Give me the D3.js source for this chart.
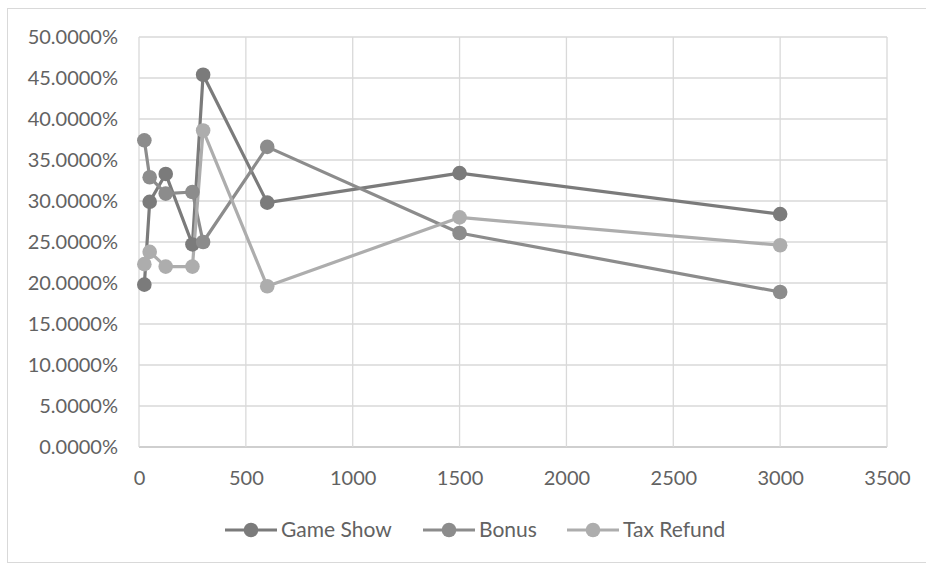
<!DOCTYPE html>
<html>
<head>
<meta charset="utf-8">
<script src="https://cdn.jsdelivr.net/npm/d3@7"></script>
<style>
  body { margin: 0; background: #fff; }
  svg { display: block; }
</style>
</head>
<body>
<div class="chart"></div>
<script>

// x positions (same for every series)
const xValues = [25, 50, 125, 250, 300, 600, 1500, 3000];

// share in percent
const gameShow  = [19.8, 29.9, 33.3, 24.7, 45.4, 29.8, 33.4, 28.4];
const bonus     = [37.4, 32.9, 30.9, 31.1, 25.0, 36.6, 26.1, 18.9];
const taxRefund = [22.3, 23.8, 22.0, 22.0, 38.6, 19.6, 28.0, 24.6];

const seriesNames = ["Game Show", "Bonus", "Tax Refund"];
const xTicks = [0, 500, 1000, 1500, 2000, 2500, 3000, 3500];
const yTicks = [0, 5, 10, 15, 20, 25, 30, 35, 40, 45, 50];

const colors = {"Game Show": "#7b7b7b", "Bonus": "#8c8c8c", "Tax Refund": "#adadad"};

document.addEventListener('DOMContentLoaded', () => {

  const width = 926;
  const height = 565;
  const margin = {top: 37, left: 139, right: 39, bottom: 118};
  const plotWidth = width - margin.left - margin.right;
  const plotHeight = height - margin.top - margin.bottom;

  const series = [
    {name: "Game Show", values: gameShow},
    {name: "Bonus", values: bonus},
    {name: "Tax Refund", values: taxRefund}
  ];

  const xScale = d3.scaleLinear().domain([0, 3500]).range([0, plotWidth]);
  const yScale = d3.scaleLinear().domain([0, 50]).range([plotHeight, 0]);

  const svg = d3.select('.chart')
    .append('svg')
    .attr('width', width)
    .attr('height', height);

  // outer chart frame
  svg.append('rect')
    .attr('x', 7.5).attr('y', 8.5)
    .attr('width', width).attr('height', height - 11)
    .attr('fill', 'none')
    .attr('stroke', '#d9d9d9');

  const g = svg.append('g')
    .attr('transform', `translate(${margin.left},${margin.top})`);

  // grid
  g.append('g')
    .selectAll('line')
    .data(yTicks)
    .join('line')
    .attr('x1', 0).attr('x2', plotWidth)
    .attr('y1', d => yScale(d)).attr('y2', d => yScale(d))
    .attr('stroke', d => d === 0 ? '#bfbfbf' : '#d9d9d9')
    .attr('stroke-width', 1.3);

  g.append('g')
    .selectAll('line')
    .data(xTicks)
    .join('line')
    .attr('y1', 0).attr('y2', plotHeight)
    .attr('x1', d => xScale(d)).attr('x2', d => xScale(d))
    .attr('stroke', '#d9d9d9')
    .attr('stroke-width', 1.3);

  // axes (labels only, Excel style)
  const xAxis = g.append('g')
    .attr('transform', `translate(0,${plotHeight})`)
    .call(d3.axisBottom(xScale).tickValues(xTicks).tickSize(0).tickPadding(24).tickFormat(d3.format('d')));

  const yAxis = g.append('g')
    .call(d3.axisLeft(yScale).tickValues(yTicks).tickSize(0).tickPadding(21).tickFormat(d => d.toFixed(4) + '%'));

  [xAxis, yAxis].forEach(a => {
    a.select('.domain').remove();
    a.selectAll('text')
      .attr('font-family', 'Lato, sans-serif')
      .attr('font-size', 20)
      .attr('fill', '#626262');
  });

  const line = d3.line()
    .x((d, i) => xScale(xValues[i]))
    .y(d => yScale(d));

  series.forEach(s => {
    g.append('path')
      .attr('d', line(s.values))
      .attr('fill', 'none')
      .attr('stroke', colors[s.name])
      .attr('stroke-width', 3.2)
      .attr('stroke-linejoin', 'round');
  });

  series.forEach(s => {
    g.selectAll('.pt-' + s.name.replace(' ', ''))
      .data(s.values)
      .join('circle')
      .attr('cx', (d, i) => xScale(xValues[i]))
      .attr('cy', d => yScale(d))
      .attr('r', 7.3)
      .attr('fill', colors[s.name]);
  });

  // legend
  const legendX = [225, 423, 567];
  const legend = svg.append('g').attr('transform', 'translate(0,530)');
  seriesNames.forEach((name, i) => {
    const lg = legend.append('g').attr('transform', `translate(${legendX[i]},0)`);
    lg.append('line')
      .attr('x1', 0).attr('x2', 52)
      .attr('stroke', colors[name])
      .attr('stroke-width', 3.2);
    lg.append('circle')
      .attr('cx', 26).attr('r', 7.3)
      .attr('fill', colors[name]);
    lg.append('text')
      .attr('x', 56)
      .attr('dy', '0.35em')
      .attr('font-family', 'Lato, sans-serif')
      .attr('font-size', 21)
      .attr('fill', '#626262')
      .text(name);
  });

});
</script>
</body>
</html>
